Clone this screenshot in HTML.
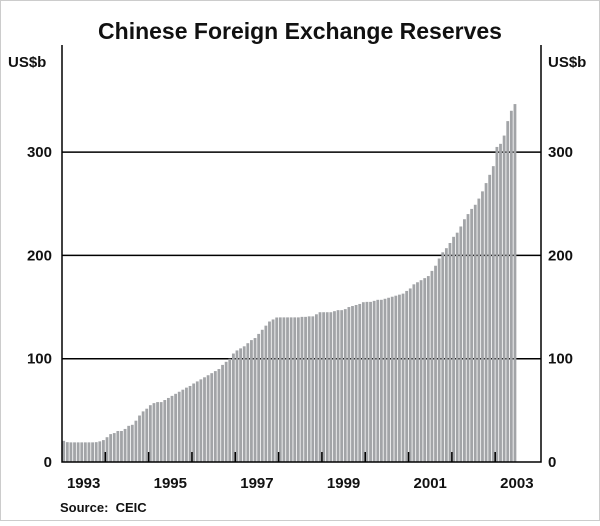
<!DOCTYPE html>
<html><head><meta charset="utf-8"><style>
body{margin:0;background:#fff;}
svg text{font-family:"Liberation Sans",Arial,sans-serif;fill:#111;}
</style></head><body>
<svg id="chart" width="600" height="521" viewBox="0 0 600 521">
<rect x="0.5" y="0.5" width="599" height="520" fill="#fff" stroke="#ccc"/>
<text x="300" y="39" text-anchor="middle" font-size="23" font-weight="bold">Chinese Foreign Exchange Reserves</text>
<text x="8" y="67" font-size="15" font-weight="bold">US$b</text>
<text x="548" y="67" font-size="15" font-weight="bold">US$b</text>
<text x="60" y="512" font-size="13" font-weight="bold" xml:space="preserve">Source:  CEIC</text>
<g id="grid"></g><g id="bars"></g><g id="axes"></g>
</svg>
<script>
const yTicks=[0,100,200,300];
const yearLabels=[1993,1995,1997,1999,2001,2003];
const startYear=1993;
const values=[
20.5,19.2,19.0,19.0,19.0,19.0,19.0,19.0,19.0,19.2,20.0,21.2,
24,27,28,30,30,32,35,36,40,45,49,51.6,
55,57,58,58,60,62,64,66,68,70,72,73.6,
76,78,80,82,84,86,88,90,94,97,100,105,
108,110,112,115,118,120,124,128,132,136,138,139.9,
140,140,140,140,140,140,140.5,140.5,141,141,143,145,
145,145,145,146,147,147,148,150,151,152,153,154.7,
155,155,156,157,157,158,159,160,161,162,163,165.6,
168,172,174,176,178,180,185,190,197,203,207,212,
218,222,228,235,240,245,249,255,262,270,278,286.4,
305,308,316,330,340,346.5];
const L=62,R=541,T=45,B=462,monthW=3.61;
const y=v=>B-v*1.033;
const x=i=>L+i*monthW;
const NS='http://www.w3.org/2000/svg';
function mk(tag,attrs,parent){const e=document.createElementNS(NS,tag);for(const k in attrs)e.setAttribute(k,attrs[k]);parent.appendChild(e);return e;}
const grid=document.getElementById('grid'),bars=document.getElementById('bars'),axes=document.getElementById('axes');
yTicks.forEach(t=>{
  if(t>0){const g=mk('line',{x1:L,x2:R,y1:y(t),y2:y(t),stroke:'#000','stroke-width':1.5},grid);
  
  }
  const a=mk('text',{x:52,y:y(t)+5,'text-anchor':'end','font-size':15,'font-weight':'bold'},axes);a.textContent=t;
  
  
  const b=mk('text',{x:548,y:y(t)+5,'font-size':15,'font-weight':'bold'},axes);b.textContent=t;
  
  
});
values.forEach((v,i)=>{
  const r=mk('rect',{x:x(i)+0.3,y:y(v),width:monthW-0.8,height:B-y(v),fill:'#a2a4a7'},bars);
  
  
});
const ax=mk('path',{d:`M${L},${T}V${B}H${R}V${T}`,fill:'none',stroke:'#000','stroke-width':1.5},axes);


for(let k=1;k<=10;k++){
  const tk=mk('line',{x1:x(k*12),x2:x(k*12),y1:B-10,y2:B,stroke:'#000','stroke-width':1.5},axes);
  
  
}
yearLabels.forEach(yr=>{
  const t=mk('text',{x:x((yr-startYear)*12+6),y:488,'text-anchor':'middle','font-size':15,'font-weight':'bold'},axes);t.textContent=yr;
  
  
});
</script>
</body></html>
